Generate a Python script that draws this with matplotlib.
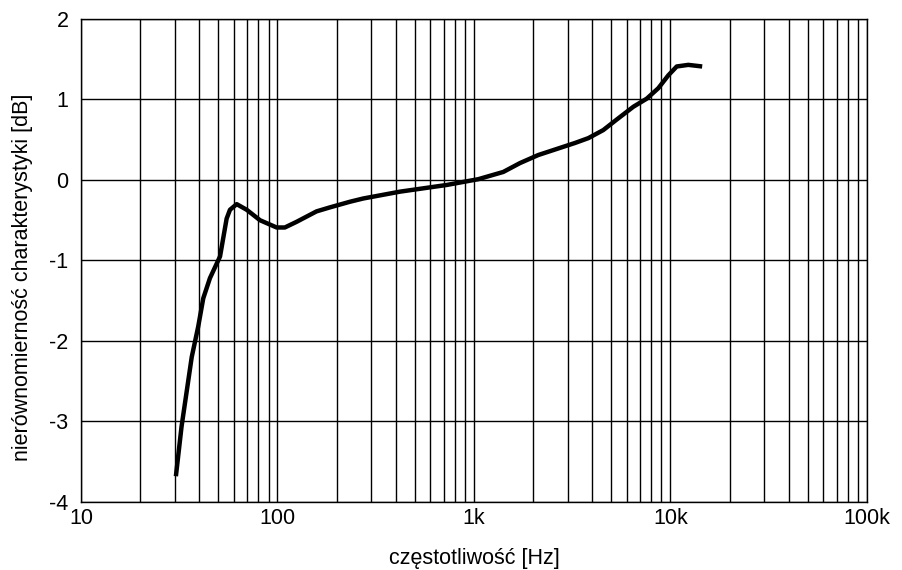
import matplotlib
matplotlib.use("Agg")
import matplotlib.pyplot as plt
from matplotlib.ticker import FixedLocator, LogLocator, NullFormatter

plt.rcParams['font.family'] = ['Liberation Sans', 'DejaVu Sans']
plt.rcParams['axes.unicode_minus'] = False

# frequency response
freq = [30.4, 32.5, 36.6, 39.5, 41.9, 45.3, 51.0, 55.1, 57.3, 62.0, 69.7, 81.5,
        99, 109, 125, 158, 185, 234, 273, 420, 726, 1052, 1410, 1714, 2124,
        3268, 3820, 4550, 5320, 6475, 7570, 8670, 9750, 10760, 12320, 14500]
level = [-3.68, -3.06, -2.20, -1.82, -1.47, -1.22, -0.95, -0.48, -0.37, -0.30, -0.37, -0.50,
         -0.59, -0.59, -0.52, -0.39, -0.34, -0.27, -0.23, -0.145, -0.062, 0.01, 0.10, 0.21, 0.31,
         0.46, 0.52, 0.62, 0.75, 0.91, 1.01, 1.14, 1.30, 1.41, 1.43, 1.41]

x_ticks = [10, 100, 1000, 10000, 100000]
x_labels = ["10", "100", "1k", "10k", "100k"]
y_ticks = [-4, -3, -2, -1, 0, 1, 2]

fig = plt.figure(figsize=(9.03, 5.70), dpi=100)
ax = fig.add_axes([0.0897, 0.1193, 0.8704, 0.8474])

ax.plot(freq, level, color="black", linewidth=3.2, solid_capstyle="butt",
        solid_joinstyle="round")

ax.set_xscale("log")
ax.set_xlim(10, 100000)
ax.set_ylim(-4, 2)
ax.xaxis.set_major_locator(FixedLocator(x_ticks))
ax.set_xticklabels(x_labels)
ax.xaxis.set_minor_locator(LogLocator(base=10, subs=range(2, 10)))
ax.xaxis.set_minor_formatter(NullFormatter())
ax.set_yticks(y_ticks)

ax.grid(True, which="major", color="black", linewidth=1)
ax.grid(True, which="minor", axis="x", color="black", linewidth=1)
ax.tick_params(which="both", length=0, labelsize=15.5)
ax.tick_params(axis="x", pad=4)
ax.tick_params(axis="y", pad=9)
for s in ax.spines.values():
    s.set_linewidth(1)

ax.set_xlabel("częstotliwość [Hz]", fontsize=15.5, labelpad=14)
ax.set_ylabel("nierównomierność charakterystyki [dB]", fontsize=15.5)
ax.yaxis.set_label_coords(-0.061, 0.466)

fig.savefig("out.png", dpi=100)
